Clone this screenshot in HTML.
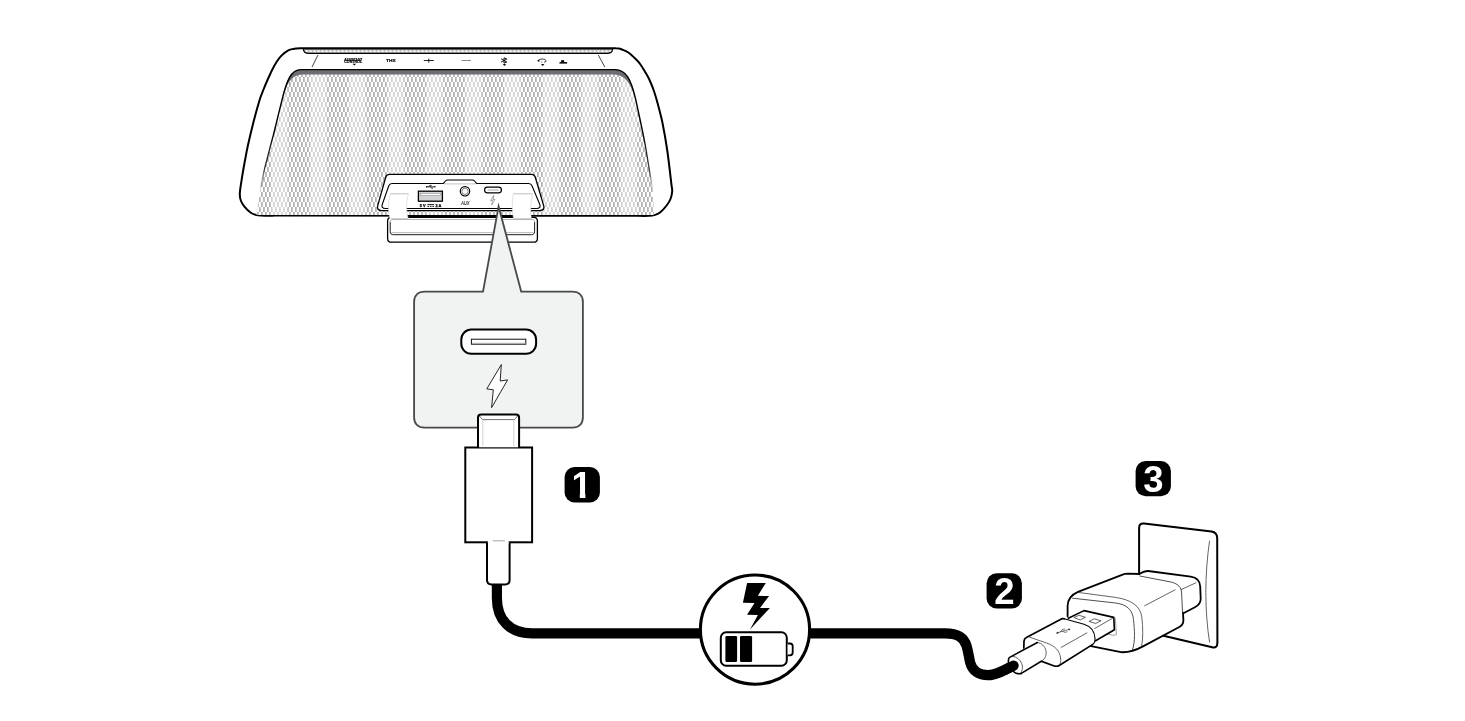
<!DOCTYPE html>
<html lang="en">
<head>
<meta charset="utf-8">
<title>Charging the speaker</title>
<style>
html,body{margin:0;padding:0;background:#fff;}
body{width:1465px;height:721px;overflow:hidden;font-family:"Liberation Sans",sans-serif;}
svg{display:block;will-change:transform;}
text{font-family:"Liberation Sans",sans-serif;}
</style>
</head>
<body>
<svg width="1465" height="721" viewBox="0 0 1465 721">
<defs>
<pattern id="grille" x="1" y="2" width="4" height="10" patternUnits="userSpaceOnUse">
<rect x="0" y="0" width="4" height="10" fill="#fff"/>
<rect x="0" y="0" width="1.8" height="5" fill="#b4b4b4"/>
<rect x="2" y="5" width="1.8" height="5" fill="#b4b4b4"/>
</pattern>
<linearGradient id="fadeL" gradientUnits="userSpaceOnUse" x1="0" y1="134" x2="0" y2="192">
<stop offset="0" stop-color="#000" stop-opacity="1"/>
<stop offset="0.6" stop-color="#000" stop-opacity="0.75"/>
<stop offset="1" stop-color="#000" stop-opacity="0"/>
</linearGradient>
<pattern id="bands" x="310" y="0" width="38.8" height="10" patternUnits="userSpaceOnUse">
<rect x="0" y="0" width="16.6" height="10" fill="#fff" fill-opacity="0.42"/>
</pattern>
<pattern id="strip" x="0.6" y="50" width="4" height="10" patternUnits="userSpaceOnUse">
<rect width="4" height="10" fill="#bdbdbd"/>
<rect x="0.8" y="0.4" width="2.2" height="1.7" fill="#fff"/>
</pattern>
</defs>
<rect width="1465" height="721" fill="#fff"/>

<!-- SPEAKER -->
<g id="speaker">
<!-- outer body -->
<path d="M320.0,48.2 C316.7,48.2 304.4,48.1 300.0,48.2 C295.6,48.3 295.4,48.5 293.5,48.9 C291.6,49.3 290.3,49.3 288.3,50.4 C286.3,51.5 283.6,53.5 281.7,55.4 C279.8,57.3 278.3,59.3 276.7,61.7 C275.1,64.1 273.6,67.0 272.1,70.0 C270.6,73.0 269.0,76.7 267.5,80.0 C266.0,83.3 264.6,86.7 263.3,90.0 C262.0,93.3 261.2,94.7 259.6,100.0 C258.0,105.3 255.4,114.5 253.5,122.0 C251.6,129.5 249.5,138.2 248.0,145.0 C246.5,151.8 245.7,156.6 244.5,163.0 C243.3,169.4 241.9,178.1 241.1,183.3 C240.3,188.5 239.8,191.5 239.8,194.4 C239.8,197.3 240.2,199.0 241.0,201.0 C241.8,203.0 242.8,204.7 244.4,206.6 C246.0,208.5 248.7,211.2 250.5,212.5 C252.3,213.8 253.2,214.1 255.0,214.6 C256.8,215.1 257.7,215.4 261.0,215.6 C264.3,215.8 272.7,215.6 275.0,215.6 L635.0,215.8 C637.3,215.8 645.7,216.0 649.0,215.8 C652.3,215.7 653.2,215.5 655.0,214.9 C656.8,214.3 658.1,214.1 660.0,212.5 C661.9,210.9 664.9,207.8 666.6,205.5 C668.4,203.2 669.6,201.4 670.5,199.0 C671.4,196.6 672.1,193.6 672.2,191.0 C672.3,188.4 672.1,190.1 671.3,183.3 C670.5,176.5 668.7,160.2 667.2,150.0 C665.7,139.8 664.0,130.3 662.3,122.0 C660.5,113.7 658.2,105.5 656.7,100.0 C655.2,94.5 654.5,92.7 653.3,89.2 C652.0,85.7 650.6,82.1 649.2,79.2 C647.8,76.3 646.4,74.1 645.0,71.7 C643.6,69.3 642.2,67.0 640.8,65.0 C639.4,63.0 638.8,62.1 636.7,60.0 C634.6,57.9 630.7,54.2 628.3,52.5 C625.9,50.8 624.5,50.4 622.5,49.7 C620.5,49.0 620.4,48.5 616.0,48.3 C611.6,48.0 599.3,48.2 596.0,48.2 Z" fill="#fff" stroke="#000" stroke-width="2"/>
<!-- top led strip -->
<path d="M303.4,49 L612.6,49 C612.6,52 611,53.4 607,53.4 L309,53.4 C305,53.4 303.4,52 303.4,49 Z" fill="url(#strip)" stroke="#000" stroke-width="1.2"/>
<line x1="318" y1="55" x2="312" y2="67" stroke="#222" stroke-width="0.85"/>
<line x1="598.3" y1="55" x2="604.8" y2="67" stroke="#222" stroke-width="0.85"/>
<!-- grille -->
<path d="M301,70 L615,70 C626,70 631,79 635.8,100 C641,122 644,138 646.1,150 C649,168 651.5,182 652.8,191 L654,215 L256.5,215 L261.6,182 C264,170 266.5,160 269.4,150 C273,135 277,120 282,100 C287,80 291,70 301,70 Z" fill="url(#grille)"/>
<path d="M301,70 L615,70 C626,70 631,79 635.8,100 C641,122 644,138 646.1,150 C649,168 651.5,182 652.8,191 L654,215 L256.5,215 L261.6,182 C264,170 266.5,160 269.4,150 C273,135 277,120 282,100 C287,80 291,70 301,70 Z" fill="url(#bands)"/>
<!-- dark band -->
<path d="M301,69.6 L615,69.6 C626,69.6 631.5,79 636,100 C631,84 625,74.6 614,74.6 L302,74.6 C292,74.6 286,84 281.5,100 C286.5,79 291,69.6 301,69.6 Z" fill="#6d6e71"/>
<path d="M273.4,135 C277,120 279,112 282,100 C287,80 291,69.6 301,69.6 L615,69.6 C626,69.6 631,79 635.8,100 C638.5,112 641,124 643.3,135" fill="none" stroke="#000" stroke-width="1.4"/>
<path d="M260.6,188 C263.5,172 266.5,160 269.4,150 C270.8,144.6 272,140 273.4,135" fill="none" stroke="url(#fadeL)" stroke-width="1.3"/>
<path d="M643.3,135 C644.4,140 645.2,145 646.1,150 C649,168 651.5,182 653.2,194" fill="none" stroke="url(#fadeL)" stroke-width="1.3"/>
</g>

<!-- top icons -->
<g id="topicons" fill="#000">
<text x="353.2" y="60.6" font-size="3" font-weight="bold" text-anchor="middle" textLength="18" lengthAdjust="spacingAndGlyphs" stroke="#000" stroke-width="0.15">ASSISTANT</text>
<text x="353.2" y="63.2" font-size="3" font-weight="bold" text-anchor="middle" textLength="18" lengthAdjust="spacingAndGlyphs" stroke="#000" stroke-width="0.15">CONTROL</text>
<path d="M352.5,63.8 L356.1,63.8 L354.3,65.4 Z"/>
<text x="390.8" y="62.3" font-size="4.4" font-weight="bold" text-anchor="middle" textLength="9.6" lengthAdjust="spacingAndGlyphs" stroke="#000" stroke-width="0.2">THX</text>
<path d="M423.8,60.5 H433.8 M428.8,58.5 V62.7" stroke="#000" stroke-width="0.85" fill="none"/>
<path d="M461.5,60.5 H471" stroke="#444" stroke-width="0.65" fill="none"/>
<path d="M501,58.8 L506.8,62 L504,63.2 L504,57.8 L506.8,59 L501,62.2" stroke="#000" stroke-width="0.9" fill="none"/>
<path d="M502.8,64.1 L506.2,64.1 L504.5,65.9 Z"/>
<path d="M538.4,60.8 C538.4,58.6 545.8,58.4 545.9,60.7 C546,62 545,62.3 544,62.1" stroke="#000" stroke-width="0.8" fill="none"/>
<path d="M537,60.7 L539.4,59.4 L539.4,62 Z"/>
<path d="M541,62 H542.6" stroke="#666" stroke-width="0.7"/>
<path d="M541,64.1 L544.4,64.1 L542.7,65.9 Z"/>
<rect x="561.1" y="60.2" width="3" height="2.2" fill="#000"/>
<rect x="559.5" y="62.1" width="7.6" height="1.5" fill="#000"/>
</g>

<!-- PORT PANEL -->
<g id="ports">
<!-- outer panel -->
<path d="M389.6,174.4 L531.4,174.4 C533.4,174.4 534.6,175.2 535.2,177 L543.6,205.4 C544.6,208.8 543,210.6 539.6,210.6 L381.8,210.6 C378.4,210.6 376.8,208.8 377.8,205.4 L385.8,177 C386.4,175.2 387.6,174.4 389.6,174.4 Z" fill="#fff" stroke="#000" stroke-width="1.3"/>
<!-- inner panel with bump -->
<path d="M392,183.5 L528.6,183.5 C530.4,183.5 531.4,184.2 532,185.8 L539.6,204 C540.8,207 539.6,208.5 536.6,208.5 L385.4,208.5 C382.4,208.5 381.4,207 382.4,204 L388.8,185.8 C389.4,184.2 390.2,183.5 392,183.5 Z" fill="#fff" stroke="#000" stroke-width="1.1"/>
<path d="M443.2,183.6 L445.4,181 C446,180.3 446.8,180 447.8,180 L472.2,180 C473.2,180 474,180.3 474.6,181 L476.8,183.6" fill="#fff" stroke="#000" stroke-width="1.1"/>
<path d="M444.4,183.6 H475.6" fill="none" stroke="#fff" stroke-width="1.3"/>
<path d="M444.4,183.9 H475.6" fill="none" stroke="#a7a9ac" stroke-width="0.7"/>
<!-- USB-A -->
<rect x="418.4" y="191.2" width="24" height="10" fill="#d1d3d4" stroke="#000" stroke-width="1.3"/>
<rect x="420.5" y="193.3" width="20" height="2.3" fill="#fff" stroke="#8a8c8e" stroke-width="0.6"/>
<path d="M426.4,186.8 H434.6 M428.4,186.8 L430,185.4 H431.6 M430.2,186.8 L431.8,188.2 H433" stroke="#000" stroke-width="0.8" fill="none"/>
<path d="M434.4,185.8 L436,186.8 L434.4,187.8 Z" fill="#000"/>
<circle cx="426.8" cy="186.8" r="0.8" fill="#000"/>
<text x="419.8" y="207" font-size="3.9" font-weight="bold" fill="#000" stroke="#000" stroke-width="0.25">5 V</text>
<path d="M427.4,204.6 H434 M427.4,206.4 H429 M429.9,206.4 H431.5 M432.4,206.4 H434" stroke="#000" stroke-width="0.9" fill="none"/>
<text x="435.4" y="207" font-size="3.9" font-weight="bold" fill="#000" stroke="#000" stroke-width="0.25">2 A</text>
<!-- AUX -->
<circle cx="465" cy="191.3" r="4.7" fill="#fff" stroke="#000" stroke-width="1.2"/>
<circle cx="465" cy="191.3" r="3.1" fill="#fff" stroke="#77787b" stroke-width="0.9"/>
<text x="465.3" y="204.5" font-size="5.3" font-style="italic" fill="#222" stroke="#222" stroke-width="0.1" text-anchor="middle" textLength="8.8" lengthAdjust="spacingAndGlyphs">AUX</text>
<!-- USB-C small -->
<rect x="484.6" y="187.2" width="16.8" height="5.6" rx="2.8" fill="#fff" stroke="#000" stroke-width="1.2"/>
<line x1="487.6" y1="190" x2="498.4" y2="190" stroke="#9a9c9e" stroke-width="0.9"/>
<path d="M493.8,195.4 L490.6,200.6 L492.6,200.4 L491.6,205 L495,199.4 L493,199.7 Z" fill="#fff" stroke="#555" stroke-width="0.5"/>
<!-- tray -->
<path d="M391.4,217.3 L533.6,217.3 C536,217.3 537.4,218.7 537.4,221.1 L537.4,238.4 C537.4,240.8 536,242.2 533.6,242.2 L391.4,242.2 C389,242.2 387.6,240.8 387.6,238.4 L387.6,221.1 C387.6,218.7 389,217.3 391.4,217.3 Z" fill="#fff" stroke="#000" stroke-width="1.3"/>
<path d="M390.2,222 L390.2,231.6 C390.2,233.6 391.4,234.7 393.4,234.7 L531.4,234.7 C533.4,234.7 534.6,233.6 534.6,231.6 L534.6,222" fill="none" stroke="#000" stroke-width="0.9"/>
<path d="M390.2,222.4 C390.2,220.4 391,219.5 393,219.5 L532,219.5 C534,219.5 534.6,220.4 534.6,222.4" fill="none" stroke="#a7a9ac" stroke-width="0.9"/>
<path d="M391.4,232.6 L533.4,232.6" fill="none" stroke="#9a9c9e" stroke-width="0.7"/>
<!-- black line -->
<rect x="407" y="215.1" width="107.5" height="2.6" fill="#000"/>
<!-- clips -->
<path d="M390.4,193.6 L408.4,193.6 C406.2,202 405.8,210 408.3,218.9 L390.2,218.9 C388,212 388,203 390.4,193.6 Z" fill="#fff" stroke="#d4d5d6" stroke-width="0.7"/>
<path d="M513.4,193.6 L532.8,193.6 C530.4,202 530.2,210 531.3,218.9 L513.6,218.9 C511.8,211 511.8,202 513.4,193.6 Z" fill="#fff" stroke="#d4d5d6" stroke-width="0.7"/>
<path d="M390.6,193.8 H408.2 M513.6,193.8 H532.6" stroke="#c4c5c7" stroke-width="0.9" fill="none"/>
<path d="M391.6,219.1 H408.2 M514,219.1 H531.2" stroke="#a7a9ac" stroke-width="0.9" fill="none"/>
</g>

<!-- CALLOUT -->
<g id="callout">
<path d="M498.6,206.4 L521.2,291.6 L572.4,291.6 C579,291.6 582.9,295.5 582.9,302 L582.9,417.2 C582.9,423.8 579,427.7 572.4,427.7 L424.6,427.7 C418,427.7 414.1,423.8 414.1,417.2 L414.1,302 C414.1,295.5 418,291.6 424.6,291.6 L483,291.6 Z" fill="#f1f2f2" stroke="#48494b" stroke-width="1.8" stroke-linejoin="miter" stroke-miterlimit="10"/>
<rect x="461.3" y="329.5" width="74.8" height="24.3" rx="10" fill="#fff" stroke="#000" stroke-width="2"/>
<rect x="471.4" y="339.2" width="54.4" height="5" fill="#fff" stroke="#111" stroke-width="1"/>
<line x1="472" y1="343.3" x2="525.4" y2="343.3" stroke="#a7a9ac" stroke-width="0.9"/>
<path d="M501.3,364.6 L486.8,388.9 L493.3,389.8 L491.6,407.6 L507.6,379.9 L500.2,381 Z" fill="#fff" stroke="#000" stroke-width="0.85" stroke-linejoin="miter"/>
</g>

<!-- USB-C PLUG -->
<g id="plug">
<path d="M478,447.4 L478,417.6 C478,415.6 479.2,414.5 481.2,414.5 L515.9,414.5 C517.9,414.5 519.1,415.6 519.1,417.6 L519.1,447.4 Z" fill="#fff" stroke="#000" stroke-width="2"/>
<path d="M479.2,415.8 L482.6,419.6 L514.4,419.6 L517.8,415.8" fill="none" stroke="#333" stroke-width="0.7"/>
<path d="M482.8,419.6 V447 M513.8,419.6 V447" fill="none" stroke="#bcbec0" stroke-width="0.7"/>
<rect x="465.3" y="447.5" width="66.8" height="94.8" fill="#fff" stroke="#000" stroke-width="2"/>
<rect x="479.1" y="446" width="38.9" height="1.3" fill="#fff"/>
<path d="M487,542.4 L487,580 C487,582.8 488.6,584.4 491.4,584.4 L505.2,584.4 C508,584.4 509.6,582.8 509.6,580 L509.6,542.4" fill="#fff" stroke="#000" stroke-width="2"/>
<rect x="488" y="540.8" width="20.6" height="3" fill="#fff"/>
<line x1="492.7" y1="540.8" x2="504.8" y2="540.8" stroke="#8a8c8e" stroke-width="0.8"/>
</g>

<!-- CABLE -->
<g id="cable" fill="none" stroke="#000" stroke-width="10.2">
<path d="M496.9,585 L496.9,598 C496.9,620 510,633.4 532,633.4 L700,633.4"/>
<path d="M810,633.4 L945,633.4 C957,633.4 964,637 966.6,646 C968.6,653 969,658 970.3,663 C972.5,671 979,675.2 988,675.2 C996,675.2 1004,670.5 1015,664.5"/>
</g>

<!-- BATTERY CIRCLE -->
<g id="battery">
<circle cx="755" cy="629.6" r="54.6" fill="#fff" stroke="#000" stroke-width="3.1"/>
<path d="M747.1,582.9 L765.8,582.9 L757.9,595.8 L769.1,596.1 L760,607.9 L769.9,607.9 L750,629.6 L757.9,614.9 L747,614.8 L754.5,602.9 L742.9,602.7 Z" fill="#000"/>
<rect x="720.8" y="632.3" width="66" height="33.4" rx="5.4" fill="#fff" stroke="#000" stroke-width="2"/>
<path d="M787.6,643.5 L790,643.5 C791.8,643.5 792.7,644.4 792.7,646.2 L792.7,652.6 C792.7,654.4 791.8,655.3 790,655.3 L787.6,655.3" fill="#fff" stroke="#000" stroke-width="1.8"/>
<rect x="725.4" y="636" width="11.7" height="26.1" rx="1.3" fill="#000"/>
<rect x="740" y="636" width="12.1" height="26.1" rx="1.3" fill="#000"/>
</g>


<!-- WALL PLATE + CHARGER + USB-A -->
<g id="charger" stroke-linejoin="round" stroke-linecap="round">
<!-- wall plate -->
<path d="M1139.1,630 L1139.1,528 C1139.1,524.6 1140.8,523.2 1144,523.6 L1211.5,531.4 C1215.4,532 1217.2,534 1217.2,538 L1217.4,642.6 C1217.4,646.8 1215.6,648 1212.2,647.2 Z" fill="#fff" stroke="#000" stroke-width="2"/>
<path d="M1209.5,541.2 C1204.6,575 1204.6,610 1209.5,642.1" fill="none" stroke="#222" stroke-width="0.7"/>
<!-- rear housing -->
<path d="M1139.6,573.8 C1143,571.6 1145,570.8 1148.1,571 L1190.7,576.6 C1197,577.6 1200.1,581 1200.2,586.5 L1200.7,598.6 C1200.8,603 1199,605.2 1194.9,607.2 L1183.4,613.2 L1139.6,612 Z" fill="#fff" stroke="#000" stroke-width="1.8"/>
<path d="M1145,606.1 L1195.9,582.8" fill="none" stroke="#222" stroke-width="0.7"/>
<!-- main body fill -->
<path d="M1067.6,620 L1067.6,606 C1067.6,599 1071,595 1078,591.9 L1122,574.8 C1124,574 1126,573.7 1128,573.7 L1139.6,574 L1169.9,581.8 C1178,583.5 1181.4,587 1181.6,593 L1182.6,611.9 L1183.4,620.3 C1183.4,624 1182,625.6 1179.3,627 L1143,646.4 C1136,650.2 1130,652.8 1121,652.2 L1090.5,646 L1070,636 Z" fill="#fff" stroke="none"/>
<!-- main body thick outline -->
<path d="M1067.6,616.5 L1067.6,606 C1067.6,599 1071,595 1078,591.9 L1122,574.8 C1124,574 1126,573.7 1128,573.7 L1139.6,574" fill="none" stroke="#000" stroke-width="1.8"/>
<path d="M1183,612.6 L1183.4,620.3 C1183.4,624 1182,625.6 1179.3,627 L1143,646.4 C1136,650.2 1130,652.8 1121,652.2 L1091,646.2" fill="none" stroke="#000" stroke-width="1.8"/>
<!-- main body thin lines -->
<path d="M1139.8,576 L1169.9,581.8 C1178,583.5 1181.4,587 1181.6,593 L1182.5,612" fill="none" stroke="#222" stroke-width="0.8"/>
<path d="M1078,592.4 L1115.5,597.4 C1131,599.6 1140.4,606 1141.8,617 C1143,627 1143.2,638 1141.6,646.6" fill="none" stroke="#222" stroke-width="0.7"/>
<path d="M1072.6,598.2 L1115.5,603 C1127,604.4 1132.6,610 1133.5,619.6 C1134.6,630 1135.4,642 1132.4,650" fill="none" stroke="#222" stroke-width="0.8"/>
<path d="M1144.6,605.8 L1175.1,589.8" fill="none" stroke="#222" stroke-width="0.7"/>
<!-- port opening -->
<path d="M1115.4,618.6 L1116.4,634.6 L1113,635.4 L1106,633.6" fill="none" stroke="#777" stroke-width="0.7"/>

<!-- USB-A metal -->
<path d="M1068.4,618.3 L1084,610.6 L1113.8,617.4 L1114.4,629.8 L1095.6,640.8 L1090,632 Z" fill="#fff" stroke="none"/>
<path d="M1068.4,618.3 L1084,610.6 L1113.8,617.4 L1114.4,629.8 L1095.6,640.8" fill="none" stroke="#000" stroke-width="1.6"/>
<path d="M1094.7,628.5 L1112.6,618.2" fill="none" stroke="#222" stroke-width="0.7"/>
<path d="M1074.3,617.4 L1079.1,615.3 L1085.4,617.3 L1080.6,619.8 Z M1089.3,621.3 L1094.2,618.8 L1101,620.8 L1096.1,623.3 Z" fill="#fff" stroke="#222" stroke-width="0.7"/>

<!-- overmold -->
<path d="M1023.8,648.5 L1024,641.4 C1024,639.6 1024.8,638.4 1026.4,637.6 L1060.4,619.4 C1061.6,618.6 1062.8,618.4 1064.2,618.8 L1084,624.2 C1091,626.4 1094.6,631 1095,638.3 C1095.2,641.6 1094.6,643.4 1092.4,644.6 L1059.6,665.2 C1057.6,666.4 1055.8,666.6 1053.6,665.8 L1041.7,661.4 Z" fill="#fff" stroke="none"/>
<path d="M1023.8,648 L1024,641.4 C1024,639.6 1024.8,638.4 1026.4,637.6 L1060.4,619.4 C1061.6,618.6 1062.8,618.4 1064.2,618.8" fill="none" stroke="#000" stroke-width="1.7"/>
<path d="M1064.2,618.8 L1084,624.2 C1091,626.4 1094.6,631 1095,638.3 C1095.2,641.6 1094.6,643.4 1092.4,644.6" fill="none" stroke="#000" stroke-width="1.1"/>
<path d="M1092.4,644.6 L1059.6,665.2 C1057.6,666.4 1055.8,666.6 1053.6,665.8 L1041.7,661.4" fill="none" stroke="#000" stroke-width="1.7"/>
<path d="M1029.6,637.2 L1046.6,643 C1055.6,646.2 1059.6,651 1060.6,658 C1061,661 1060.6,663 1059.6,664.8" fill="none" stroke="#222" stroke-width="0.7"/>
<path d="M1061.2,647.4 L1086.9,632.9" fill="none" stroke="#222" stroke-width="0.7"/>
<!-- usb symbol on overmold -->
<path d="M1057.4,632.8 L1069,629.4 M1060.4,631.9 L1062.2,629.6 L1064.6,629 M1062.6,631.3 L1065,632.4 L1067,631.8" fill="none" stroke="#222" stroke-width="0.6"/>
<path d="M1055.6,633.4 L1058,631.4 L1058.6,633.6 Z" fill="#222" stroke="none"/>
<path d="M1068.2,628.4 L1070.4,629 L1069,630.8 Z" fill="#222" stroke="none"/>

<!-- collar -->
<path d="M1009.2,657.6 L1037.4,642.5 C1046,643 1050,656 1041.7,661 L1020.9,673.6 C1012,674 1006,664 1009.2,657.6 Z" fill="#fff" stroke="none"/>
<path d="M1037.4,642.5 C1046.4,643.4 1049.8,656.4 1041.7,661" fill="none" stroke="#222" stroke-width="0.7"/>
<path d="M1012.6,656.2 C1021.4,657.4 1025.4,668 1020.4,673.4" fill="none" stroke="#222" stroke-width="0.7"/>
<path d="M1020.9,673.6 C1016,674.6 1011.6,671 1009.6,666.4 C1008.2,663 1008,659.8 1009.2,657.6 L1037.4,642.5" fill="none" stroke="#000" stroke-width="1.6"/>
<path d="M1020.9,673.6 L1041.7,661" fill="none" stroke="#000" stroke-width="1.6"/>
</g>
<!-- cable end over collar -->
<path d="M1005,670 C1009,668 1012,666.6 1013.6,665.6" fill="none" stroke="#000" stroke-width="10.2" stroke-linecap="round"/>

<!-- BADGES -->
<g id="badges" font-weight="bold" font-size="36.5" text-anchor="middle">
<rect x="564.6" y="467.1" width="35.3" height="35.3" rx="10" fill="#000"/>
<text x="581.7" y="498" fill="#fff">1</text>
<rect x="571" y="493.4" width="8.8" height="6" fill="#000"/><rect x="585.4" y="493.4" width="8" height="6" fill="#000"/>
<rect x="986.6" y="573.2" width="35.3" height="35.3" rx="10" fill="#000"/>
<text x="1004.5" y="603.7" fill="#fff">2</text>
<rect x="1135.6" y="461" width="35.3" height="35.3" rx="10" fill="#000"/>
<text x="1153.5" y="491.7" fill="#fff">3</text>
</g>
</svg>
</body>
</html>
